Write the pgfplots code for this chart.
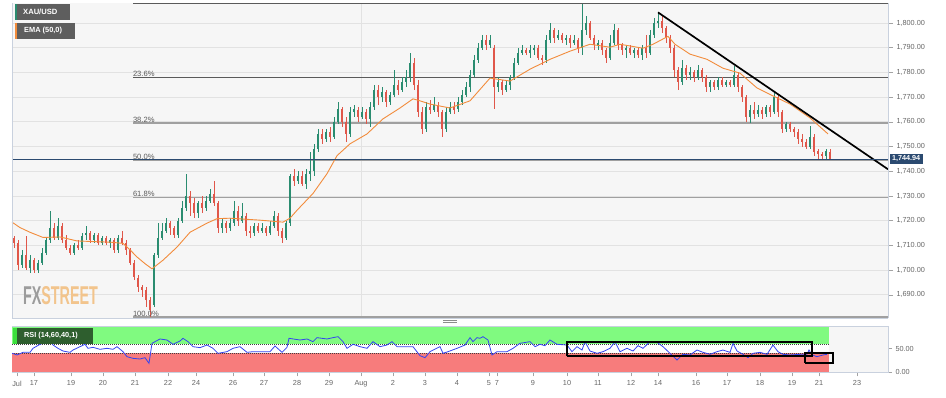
\documentclass[border=0pt]{standalone}
\usepackage{pgfplots}
\pgfplotsset{compat=1.18}
\usepackage{pgfplotstable}
\usepackage{fontspec}
\setmainfont{Liberation Sans}
\usepackage{graphicx}
\definecolor{cup}{HTML}{2A8C70}
\definecolor{cdn}{HTML}{E0574A}
\definecolor{ema}{HTML}{F28C3C}
\definecolor{bg}{HTML}{F6F6F6}
\definecolor{gridc}{HTML}{E2E2E2}
\definecolor{navy}{HTML}{2B4A70}
\definecolor{fibd}{HTML}{5A5A5A}
\definecolor{fibl}{HTML}{A0A0A0}
\definecolor{lblc}{HTML}{666666}
\definecolor{rsig}{HTML}{80FA80}
\definecolor{rsir}{HTML}{F77C7C}
\definecolor{rsil}{HTML}{3444F0}
\definecolor{boxg}{HTML}{5E5E5E}
\definecolor{rsibox}{HTML}{2E5E2E}
\definecolor{rsistrip}{HTML}{3CE03C}
\definecolor{fxg}{HTML}{9C9C9C}
\definecolor{fxo}{HTML}{F2C48C}
\definecolor{framec}{HTML}{C9D1DE}
\newcommand\tf{\fontsize{7.3}{8.5}\selectfont}
\newcommand\fibfont{\fontsize{7.6}{8.5}\selectfont}

\pgfplotstableread{
x o h l c
14 1713 1714 1709 1711
18 1711 1712 1700 1702
22 1702 1708 1701 1706
26 1706 1714 1700 1701
30 1701 1706 1699 1704
34 1704 1705 1699 1700
38 1700 1704 1699 1703
42 1703 1709 1702 1707
46 1707 1713 1706 1712
50 1712 1724 1711 1717
54 1717 1719 1712 1713
58 1713 1721 1712 1718
62 1718 1719 1711 1712
66 1712 1714 1708 1709
70 1709 1710 1706 1707
74 1707 1711 1706 1710
78 1710 1712 1708 1709
82 1709 1715 1708 1714
86 1714 1718 1712 1715
90 1715 1716 1711 1712
94 1712 1715 1711 1714
98 1714 1715 1710 1711
102 1711 1714 1710 1713
106 1713 1714 1710 1711
110 1711 1713 1709 1712
114 1712 1713 1707 1708
118 1708 1714 1707 1713
122 1713 1716 1710 1711
126 1711 1712 1706 1708
130 1708 1709 1702 1703
134 1703 1704 1696 1697
138 1697 1698 1691 1693
142 1693 1694 1689 1692
146 1692 1693 1685 1688
150 1688 1689 1681 1684
154 1686 1707 1685 1706
158 1706 1719 1705 1713
162 1713 1719 1712 1716
166 1716 1721 1715 1719
170 1719 1720 1714 1717
174 1717 1718 1713 1714
178 1714 1721 1713 1720
182 1720 1728 1719 1725
186 1725 1739 1724 1730
190 1730 1732 1722 1727
194 1727 1729 1721 1723
198 1723 1728 1721 1727
202 1727 1730 1723 1725
206 1725 1730 1724 1728
210 1728 1733 1727 1731
214 1731 1736 1726 1727
218 1727 1728 1715 1717
222 1717 1721 1715 1719
226 1719 1720 1715 1717
230 1717 1721 1716 1719
234 1719 1728 1718 1724
238 1724 1726 1718 1720
242 1720 1727 1719 1722
246 1722 1723 1714 1716
250 1716 1718 1713 1715
254 1715 1719 1714 1718
258 1718 1719 1715 1716
262 1716 1719 1715 1717
266 1717 1718 1714 1715
270 1715 1720 1714 1718
274 1718 1724 1717 1722
278 1722 1723 1714 1716
282 1716 1717 1711 1713
286 1713 1720 1712 1719
290 1719 1739 1718 1738
294 1738 1741 1734 1736
298 1736 1740 1735 1738
302 1738 1740 1734 1735
306 1735 1741 1733 1739
310 1739 1748 1736 1740
314 1740 1751 1738 1749
318 1749 1757 1748 1755
322 1755 1757 1751 1753
326 1753 1757 1752 1756
330 1756 1758 1752 1754
334 1754 1762 1753 1760
338 1760 1768 1759 1765
342 1765 1766 1758 1760
346 1760 1762 1752 1755
350 1755 1766 1754 1764
354 1764 1767 1762 1765
358 1765 1766 1760 1762
362 1762 1766 1761 1764
366 1764 1765 1759 1761
370 1761 1768 1758 1766
374 1766 1775 1765 1773
378 1773 1775 1767 1770
382 1770 1774 1768 1772
386 1772 1773 1766 1768
390 1768 1772 1767 1771
394 1771 1781 1770 1775
398 1775 1777 1771 1773
402 1773 1778 1772 1776
406 1776 1781 1774 1778
410 1778 1788 1776 1784
414 1784 1786 1773 1775
418 1775 1777 1762 1764
422 1764 1766 1755 1757
426 1757 1768 1756 1766
430 1766 1769 1763 1765
434 1765 1770 1764 1767
438 1767 1768 1762 1764
442 1764 1765 1754 1757
446 1757 1766 1756 1764
450 1764 1768 1763 1766
454 1766 1768 1763 1765
458 1765 1770 1764 1768
462 1768 1773 1767 1771
466 1771 1776 1770 1774
470 1774 1781 1772 1779
474 1779 1787 1778 1785
478 1785 1792 1784 1790
482 1790 1795 1789 1793
486 1793 1795 1789 1791
490 1791 1795 1790 1793
494 1790 1791 1765 1774
498 1774 1778 1772 1776
502 1776 1777 1771 1773
506 1773 1777 1772 1775
510 1775 1779 1773 1778
514 1778 1786 1777 1784
518 1784 1790 1783 1788
522 1788 1791 1787 1789
526 1789 1790 1787 1788
530 1788 1791 1786 1789
534 1789 1791 1787 1790
538 1790 1791 1785 1786
542 1786 1787 1783 1785
546 1785 1795 1784 1793
550 1793 1800 1792 1797
554 1797 1798 1792 1794
558 1794 1797 1793 1795
562 1795 1796 1792 1793
566 1793 1795 1791 1794
570 1794 1795 1790 1792
574 1792 1795 1791 1793
578 1793 1794 1788 1790
582 1790 1807.8 1787 1797
586 1797 1803 1795 1800
590 1800 1801 1793 1794
594 1794 1795 1789 1791
598 1791 1793 1789 1792
602 1792 1793 1787 1789
606 1789 1790 1784 1786
610 1786 1795 1785 1792
614 1792 1799.5 1791 1797
618 1797 1798 1789 1791
622 1791 1792 1787 1789
626 1789 1791 1786 1790
630 1790 1791 1787 1788
634 1788 1790 1786 1789
638 1789 1790 1786 1787
642 1787 1791 1785 1790
646 1790 1795 1786 1788
650 1788 1797 1787 1795
654 1795 1802 1794 1800
658 1800 1804 1798 1801
662 1801 1803 1796 1798
666 1798 1799 1792 1794
670 1794 1795 1788 1790
674 1790 1791 1778 1781
678 1781 1782 1773 1776
682 1776 1785 1775 1782
686 1782 1783 1777 1779
690 1779 1782 1777 1780
694 1780 1781 1776 1778
698 1778 1783 1777 1781
702 1781 1782 1776 1778
706 1778 1779 1772 1774
710 1774 1777 1772 1776
714 1776 1777 1773 1774
718 1774 1778 1773 1777
722 1777 1778 1774 1775
726 1775 1777 1774 1776
730 1776 1777 1774 1775
734 1775 1782.5 1774 1779
738 1779 1780 1772 1774
742 1774 1775 1768 1770
746 1770 1771 1760 1762
750 1762 1767 1759.5 1765
754 1765 1768 1761 1763
758 1763 1767 1762 1765
762 1765 1766 1761 1763
766 1763 1767 1762 1766
770 1766 1767 1762 1764
774 1764 1772.5 1763 1770
778 1770 1771 1762 1764
782 1764 1765 1755.5 1757
786 1757 1760 1756 1759
790 1759 1760 1756 1757
794 1757 1758 1754 1756
798 1756 1757 1751 1753
802 1753 1755 1750 1752
806 1752 1753 1749 1750
810 1750 1758.4 1749 1754
814 1754 1755 1746 1748
818 1748 1749 1745 1747
822 1747 1748 1745 1746
826 1746 1749 1745 1748
830 1748 1749 1744.5 1744.94
}\candles

\pgfplotsset{
  wick/.style={only marks, mark=*, mark size=0pt, mark options={draw opacity=0, fill opacity=0},
    forget plot, restrict y to domain=1600:1900,
    error bars/.cd, y dir=both, y explicit, error mark=none,
    error bar style={line width=0.6pt, draw=#1}},
  body/.style={only marks, mark=*, mark size=0pt, mark options={draw opacity=0, fill opacity=0},
    forget plot, restrict y to domain=1600:1900,
    error bars/.cd, y dir=both, y explicit, error mark=none,
    error bar style={line width=2pt, draw=#1}},
}

\begin{document}
\begin{tikzpicture}
\fill[white] (0pt,0pt) rectangle (946pt,-398pt);
% ---------------- main panel ----------------
\begin{axis}[
  at={(12pt,-3pt)}, anchor=north west, scale only axis,
  width=876pt, height=315pt,
  xmin=12, xmax=888, ymin=1680.6, ymax=1808.1,
  axis background/.style={fill=bg},
  axis line style={draw=none},
  clip mode=individual,
  xtick=\empty,
  extra x ticks={361}, extra x tick labels={},
  extra x tick style={grid=major, major tick length=0pt},
  ytick={1690,1700,...,1800},
  ymajorgrids,
  major grid style={draw=gridc, line width=0.8pt},
  ytick pos=right, yticklabel pos=right,
  tick align=outside, major tick length=5pt,
  tick style={draw=lblc!60, line width=0.5pt},
  scaled y ticks=false,
  /pgf/number format/assume math mode=true,
  yticklabel style={font=\tf, text=lblc,
    /pgf/number format/fixed, /pgf/number format/fixed zerofill,
    /pgf/number format/precision=2, /pgf/number format/1000 sep={,}},
]
% Fibonacci levels
\draw[fibd, line width=0.9pt] (axis cs:133,1807.9) -- (axis cs:888,1807.9);
\draw[fibd, line width=1pt] (axis cs:133,1777.9) -- (axis cs:888,1777.9);
\draw[fibl, line width=1.8pt] (axis cs:133,1759.4) -- (axis cs:888,1759.4);
\draw[fibl, line width=2pt] (axis cs:133,1744.4) -- (axis cs:888,1744.4);
\draw[fibl, line width=1.8pt] (axis cs:133,1729.4) -- (axis cs:888,1729.4);
\draw[fibl, line width=2pt] (axis cs:133,1680.9) -- (axis cs:888,1680.9);
% candles
\addplot[wick=cup] table[x=x, y expr={\thisrow{c}<\thisrow{o} ? 0 : (\thisrow{h}+\thisrow{l})/2}, y error expr={(\thisrow{h}-\thisrow{l})/2}] {\candles};
\addplot[wick=cdn] table[x=x, y expr={\thisrow{c}<\thisrow{o} ? (\thisrow{h}+\thisrow{l})/2 : 0}, y error expr={(\thisrow{h}-\thisrow{l})/2}] {\candles};
\addplot[body=cup] table[x=x, y expr={\thisrow{c}<\thisrow{o} ? 0 : (\thisrow{o}+\thisrow{c})/2}, y error expr={max(abs(\thisrow{c}-\thisrow{o})/2,0.25)}] {\candles};
\addplot[body=cdn] table[x=x, y expr={\thisrow{c}<\thisrow{o} ? (\thisrow{o}+\thisrow{c})/2 : 0}, y error expr={max(abs(\thisrow{c}-\thisrow{o})/2,0.25)}] {\candles};
% EMA(50)
\addplot[ema, line width=0.9pt, mark=none] coordinates {
(12,1719.4)(20,1717.2)(30,1715.3)(43,1713.2)(60,1713.4)(77,1711.8)(95,1711.5)(110,1711.3)(123,1710.8)(130,1708.2)(137,1705.3)(145,1702.6)(152,1700.5)(163,1704.0)(177,1709.3)(190,1715.3)(207,1719.0)(217,1720.8)(230,1721.0)(260,1720.2)(283,1719.4)(290,1721.0)(297,1724.2)(313,1731.0)(327,1739.0)(337,1746.3)(350,1751.1)(367,1755.1)(383,1761.2)(400,1765.6)(413,1769.3)(420,1768.5)(430,1767.2)(450,1765.6)(470,1768.5)(490,1777.7)(510,1776.5)(530,1781.3)(550,1785.3)(570,1788.6)(590,1791.4)(610,1790.2)(620,1791.4)(643,1789.8)(653,1791.4)(668,1794.6)(675,1791.4)(690,1787.4)(707,1785.3)(723,1781.7)(740,1779.7)(757,1773.7)(773,1770.5)(790,1767.2)(810,1761.6)(828,1755.1)};
% trend line
\addplot[black, line width=1.7pt, mark=none] coordinates {(658,1804.3) (888,1740.8)};
% current price line
\draw[navy, line width=0.9pt] (axis cs:12,1744.94) -- (axis cs:888,1744.94);
% frame
\draw[framec, line width=0.8pt] (rel axis cs:0,0) -- (rel axis cs:0,1);
\draw[framec, line width=0.8pt] (rel axis cs:1,0) -- (rel axis cs:1,1);
\draw[framec, line width=0.6pt] (rel axis cs:0,0) -- (rel axis cs:1,0);
% fib labels
\node[anchor=south west, inner sep=0.8pt, font=\fibfont, text=fibd] at (axis cs:132,1777.9) {23.6\%};
\node[anchor=south west, inner sep=0.8pt, font=\fibfont, text=fibd] at (axis cs:132,1759.4) {38.2\%};
\node[anchor=south west, inner sep=0.8pt, font=\fibfont, text=fibd] at (axis cs:132,1744.4) {50.0\%};
\node[anchor=south west, inner sep=0.8pt, font=\fibfont, text=fibd] at (axis cs:132,1729.4) {61.8\%};
\node[anchor=south west, inner sep=0.8pt, font=\fibfont, text=fibd] at (axis cs:132,1680.9) {100.0\%};
% price label
\node[anchor=west, fill=navy, text=white, font=\bfseries\fontsize{7.2}{8}\selectfont, inner xsep=2.5pt, inner ysep=2pt, xshift=1.5pt] at (axis cs:888,1744.94) {1,744.94};
\end{axis}
% ---------------- RSI panel ----------------
\begin{axis}[
  at={(12pt,-326.7pt)}, anchor=north west, scale only axis,
  width=876pt, height=45.6pt,
  xmin=12, xmax=888, ymin=0, ymax=96.6,
  axis background/.style={fill=bg},
  axis line style={draw=framec, line width=0.6pt},
  clip mode=individual,
  xtick={17,34,71,103,135,168,196,233,264,297,329,361,393,425,457,489,497,533,567,598,631,658,696,727,760,792,819,857},
  xticklabels={Jul,17,19,20,21,22,24,26,27,28,29,Aug,2,3,4,5,7,9,10,11,12,14,16,17,18,19,21,23},
  xtick pos=bottom,
  ytick={0,50}, yticklabels={0.00,50.00},
  ytick pos=right, yticklabel pos=right,
  tick align=outside, major tick length=4pt,
  tick style={draw=lblc!60, line width=0.5pt},
  ticklabel style={font=\tf, text=lblc},
  xticklabel style={yshift=-1pt},
]
\fill[rsig] (axis cs:12,60) rectangle (axis cs:829,96.6);
\fill[white] (axis cs:12,40) rectangle (axis cs:829,60);
\fill[rsir] (axis cs:12,0) rectangle (axis cs:829,40);
\draw[black!75, line width=0.5pt, dash pattern=on 1pt off 1pt] (axis cs:12,60) -- (axis cs:829,60);
\draw[black!75, line width=0.5pt, dash pattern=on 1pt off 1pt] (axis cs:12,40) -- (axis cs:829,40);
\addplot[rsil, line width=0.8pt, mark=none] coordinates {
(12,40.2)(17,36.7)(23,42.3)(30,42.3)(33,50.8)(40,59.3)(47,64.9)(50,68.4)(53,57.8)(58,50.8)(63,45.1)(70,42.3)(73,47.2)(80,54.3)(85,59.3)(88,50.8)(93,52.9)(100,48.7)(107,50.8)(113,48.7)(117,54.3)(123,43.7)(127,33.1)(133,29.6)(140,28.2)(145,31.0)(149,19.0)(152,61.4)(160,70.6)(167,68.4)(173,59.3)(180,66.3)(183,72.0)(188,64.9)(193,54.3)(200,52.2)(207,57.8)(213,50.8)(218,40.2)(227,43.7)(233,50.8)(240,54.3)(247,42.3)(253,43.7)(263,43.7)(270,43.7)(275,55.7)(282,42.3)(287,52.9)(289,72.0)(300,68.4)(307,70.6)(313,64.9)(317,73.4)(327,70.6)(333,73.4)(338,75.5)(343,64.9)(347,50.8)(353,59.3)(360,54.3)(367,50.8)(373,64.9)(380,54.3)(387,57.8)(392,64.9)(397,54.3)(407,54.3)(413,54.3)(420,35.2)(425,31.0)(430,43.7)(440,54.3)(443,40.2)(448,43.7)(457,50.8)(465,57.8)(470,73.4)(473,64.9)(477,73.4)(480,72.0)(483,75.5)(488,68.4)(492,36.7)(497,43.7)(507,43.7)(513,50.8)(520,61.4)(530,64.9)(535,54.3)(540,59.3)(545,56.4)(550,68.4)(557,59.3)(567,57.8)(572,43.7)(577,54.3)(582,47.2)(585,64.9)(590,45.1)(597,40.2)(603,43.7)(610,50.8)(615,64.9)(620,43.7)(627,50.8)(633,45.1)(638,56.4)(643,50.8)(650,64.9)(657,63.5)(663,54.3)(670,40.2)(677,26.1)(683,38.1)(690,36.7)(697,47.2)(703,42.3)(710,38.1)(717,43.7)(723,47.2)(730,42.3)(733,61.4)(737,45.1)(743,38.1)(748,31.0)(753,40.2)(760,42.3)(767,38.1)(773,57.8)(778,43.7)(783,38.1)(790,36.7)(800,38.1)(807,38.1)(809,47.2)(812,36.7)(817,33.1)(823,36.7)(827,38.1)};
\addplot[black, line width=1.5pt, mark=none] coordinates {(567,34.5)(812,34.5)(812,64.2)(567,64.2)(567,34.5)};
\addplot[black, line width=1.5pt, mark=none] coordinates {(805,19.7)(833,19.7)(833,40.9)(805,40.9)(805,19.7)};
\end{axis}
% ---------------- overlays ----------------
\fill[boxg] (15pt,-4pt) rectangle (70pt,-20pt);
\fill[cup] (15pt,-4pt) rectangle (17pt,-20pt);
\node[anchor=west, inner sep=0pt, text=white, font=\bfseries\fontsize{7.6}{8.5}\selectfont] at (23pt,-12pt) {XAU/USD};
\fill[boxg] (15pt,-23pt) rectangle (75pt,-39pt);
\fill[ema] (15pt,-23pt) rectangle (17pt,-39pt);
\node[anchor=west, inner sep=0pt, text=white, font=\bfseries\fontsize{7.4}{8.5}\selectfont] at (24pt,-31pt) {EMA (50,0)};
\fill[rsibox] (13pt,-327.7pt) rectangle (93pt,-343.7pt);
\fill[rsistrip] (13pt,-327.7pt) rectangle (17pt,-343.7pt);
\node[anchor=west, inner sep=0pt, text=white, font=\bfseries\fontsize{7.3}{8.5}\selectfont] at (24pt,-335.7pt) {RSI (14,60,40,1)};
\node[inner sep=0pt] at (60.5pt,-295.5pt) {\resizebox{75pt}{18pt}{\bfseries\textcolor{fxg}{FX}\textcolor{fxo}{STREET}}};
\draw[black!45, line width=0.7pt] (443pt,-320.3pt) -- (457pt,-320.3pt);
\draw[black!45, line width=0.7pt] (443pt,-322.6pt) -- (457pt,-322.6pt);
\end{tikzpicture}
\end{document}
